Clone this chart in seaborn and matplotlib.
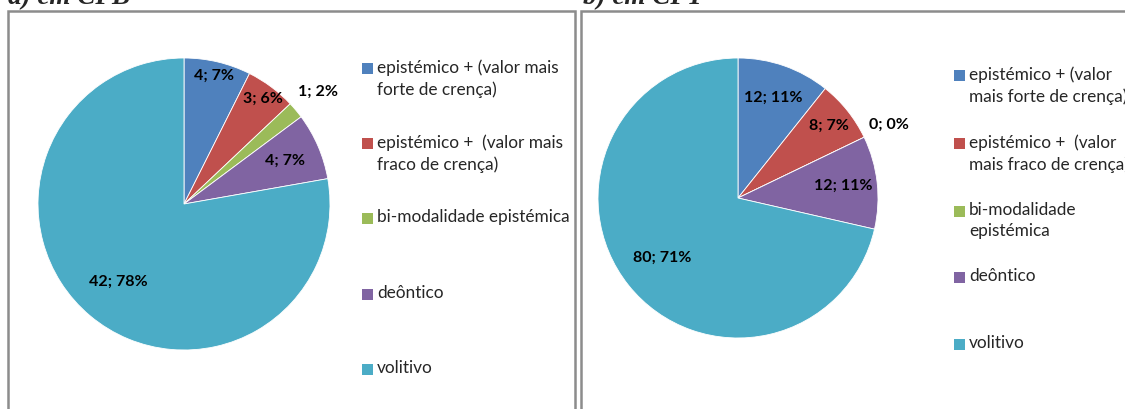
import numpy as np
import seaborn as sns
import matplotlib.pyplot as plt
from matplotlib.patches import Rectangle

# categorias e valores (contagens) por corpus
categorias = [
    "epistémico + (valor mais\nforte de crença)",
    "epistémico +  (valor mais\nfraco de crença)",
    "bi-modalidade epistémica",
    "deôntico",
    "volitivo",
]
categorias_b = [
    "epistémico + (valor\nmais forte de crença)",
    "epistémico +  (valor\nmais fraco de crença)",
    "bi-modalidade\nepistémica",
    "deôntico",
    "volitivo",
]
valores_cpb = [4, 3, 1, 4, 42]
pct_cpb = [7, 6, 2, 7, 78]
valores_cpt = [12, 8, 0, 12, 80]
pct_cpt = [11, 7, 0, 11, 71]

sns.set_style("white")
cores = sns.color_palette(["#4F81BD", "#C0504D", "#9BBB59", "#8064A2", "#4BACC6"])
plt.rcParams['font.family'] = ['Lato', 'DejaVu Sans']

W, H = 1125, 409
fig = plt.figure(figsize=(W / 100, H / 100), dpi=100)

# molduras das duas figuras
for x0, x1 in [(8, 575), (581, 1135)]:
    fig.patches.append(Rectangle((x0 / W, -0.05), (x1 - x0) / W, (H - 11) / H + 0.05,
                                 transform=fig.transFigure, fill=False,
                                 edgecolor="#8c8c8c", lw=1.8))

fig.text(8 / W, 1 - 4 / H, "a) em CPB", family="Liberation Serif", weight="bold",
         style="italic", fontsize=19.5, va="baseline")
fig.text(583 / W, 1 - 4 / H, "b) em CPT", family="Liberation Serif", weight="bold",
         style="italic", fontsize=19.5, va="baseline")


def desenha(cx, cy, r, valores, pct, raios, leg_x, leg_y, leg_labels):
    ax = fig.add_axes([(cx - r) / W, (H - cy - r) / H, 2 * r / W, 2 * r / H])
    wedges, _ = ax.pie(valores, colors=cores, startangle=90, counterclock=False,
                       wedgeprops=dict(edgecolor="white", linewidth=0.6))
    ax.set_xlim(-1, 1)
    ax.set_ylim(-1, 1)
    ax.set_aspect("auto")
    for w, v, p, rr in zip(wedges, valores, pct, raios):
        ang = np.deg2rad((w.theta1 + w.theta2) / 2)
        ax.text(rr * np.cos(ang), rr * np.sin(ang), f"{v}; {p}%", ha="center",
                va="center", fontsize=11.5, weight="bold", color="black")
    for i, lab in enumerate(leg_labels):
        y = leg_y[i]
        fig.patches.append(Rectangle(((leg_x - 15) / W, 1 - (y + 15) / H), 11 / W, 11 / H,
                                     transform=fig.transFigure, facecolor=cores[i],
                                     edgecolor="none"))
        fig.text(leg_x / W, 1 - y / H, lab, fontsize=12.4, va="top",
                 ha="left", linespacing=1.4)


desenha(184, 204, 146, valores_cpb, pct_cpb, [0.9, 0.9, 1.2, 0.75, 0.7],
        377, [59, 134, 209, 285, 360], categorias)
desenha(738, 198, 140, valores_cpt, pct_cpt, [0.76, 0.83, 1.2, 0.76, 0.69],
        969, [66, 134, 202, 268, 335], categorias_b)

fig.savefig("out.png", dpi=100)
